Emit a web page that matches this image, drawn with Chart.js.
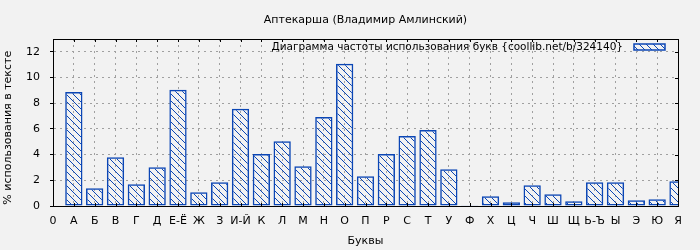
<!DOCTYPE html>
<html>
<head>
<meta charset="utf-8">
<script src="https://cdn.jsdelivr.net/npm/chart.js@4/dist/chart.umd.min.js"></script>
<style>
html, body { margin:0; padding:0; background:#f2f2f2; }
canvas { display:block; }
</style>
</head>
<body>
<canvas id="chart" width="700" height="250"></canvas>
<script>
const letters = ["А","Б","В","Г","Д","Е-Ё","Ж","З","И-Й","К","Л","М","Н","О","П","Р","С","Т","У","Ф","Х","Ц","Ч","Ш","Щ","Ь-Ъ","Ы","Э","Ю","Я"];
const percents = [8.88,1.38,3.80,1.70,3.02,9.04,1.07,1.85,7.58,4.04,5.05,3.10,6.93,11.07,2.32,4.04,5.44,5.91,2.87,0.05,0.76,0.29,1.62,0.91,0.37,1.85,1.85,0.45,0.52,1.93];
const xTickLabels = ["0", ...letters];

const blue = "#0b46b5";
const font = {family:"DejaVu Sans", size:11};

function hatch(){
    const tile = document.createElement("canvas");
    tile.width = 7;
    tile.height = 7;
    const c = tile.getContext("2d");
    c.fillStyle = blue;
    for(let i = 0; i < 7; i++){
        c.fillRect(i, i, 1, 1);
    }
    return document.getElementById("chart").getContext("2d").createPattern(tile, "repeat");
}

// border on all four sides, inside ticks, and the gnuplot-style key top right
const frame = {
    id:"frame",
    afterDraw(chart){
        const {ctx, chartArea:a, scales} = chart;
        ctx.save();
        ctx.strokeStyle = "#000";
        ctx.lineWidth = 1;
        ctx.strokeRect(Math.round(a.left) + 0.5, Math.round(a.top) + 0.5, Math.round(a.right - a.left), Math.round(a.bottom - a.top));
        ctx.beginPath();
        scales.x.ticks.forEach(t => {
            const x = Math.round(scales.x.getPixelForValue(t.value)) + 0.5;
            ctx.moveTo(x, a.bottom); ctx.lineTo(x, a.bottom - 3);
            ctx.moveTo(x, a.top); ctx.lineTo(x, a.top + 3);
        });
        scales.y.ticks.forEach(t => {
            const y = Math.round(scales.y.getPixelForValue(t.value)) + 0.5;
            ctx.moveTo(a.right, y); ctx.lineTo(a.right - 3, y);
        });
        ctx.stroke();

        const ds = chart.data.datasets[0];
        const cy = a.top + 8;
        const boxRight = a.right - 13;
        ctx.fillStyle = "#f2f2f2";
        ctx.fillRect(boxRight - 31, cy - 3, 31, 6);
        ctx.fillStyle = ds.backgroundColor;
        ctx.fillRect(boxRight - 31, cy - 3, 31, 6);
        ctx.strokeStyle = ds.borderColor;
        ctx.lineWidth = 1.5;
        ctx.strokeRect(boxRight - 31, cy - 3, 31, 6);
        ctx.fillStyle = "#000";
        ctx.font = "10.5px 'DejaVu Sans'";
        ctx.textAlign = "right";
        ctx.textBaseline = "middle";
        ctx.fillText(ds.label, boxRight - 42, cy);
        ctx.restore();
    }
};

Chart.defaults.font = font;
Chart.defaults.color = "#000";

new Chart(document.getElementById("chart"), {
    type:"bar",
    data:{
        datasets:[{
            label:"Диаграмма частоты использования букв {coollib.net/b/324140}",
            data:percents.map((v, i) => ({x:i + 1, y:v})),
            backgroundColor:hatch(),
            borderColor:blue,
            borderWidth:1.5,
            borderSkipped:false,
            barPercentage:0.83,
            categoryPercentage:1,
            clip:0
        }]
    },
    options:{
        responsive:false,
        animation:false,
        devicePixelRatio:1,
        layout:{padding:{right:22}},
        plugins:{
            title:{
                display:true,
                text:"Аптекарша (Владимир Амлинский)",
                fullSize:false,
                font:{...font, weight:"normal"},
                padding:{top:14, bottom:11.8}
            },
            legend:{display:false},
            tooltip:{enabled:false}
        },
        scales:{
            x:{
                type:"linear",
                min:0,
                max:30,
                offset:false,
                grid:{offset:false, color:"#a0a0a0", drawTicks:false},
                border:{color:"#000", dash:[2,4]},
                ticks:{
                    stepSize:1,
                    autoSkip:false,
                    maxRotation:0,
                    padding:9,
                    callback:value => xTickLabels[value]
                },
                title:{display:true, text:"Буквы", padding:{top:0, bottom:2.4}},
                afterFit(scale){ scale.height = 44; }
            },
            y:{
                min:0,
                max:13,
                grid:{color:"#a0a0a0", tickLength:3, tickColor:"#000", tickWidth:1},
                border:{color:"#000", dash:[2,4]},
                ticks:{stepSize:2, includeBounds:false, padding:10},
                title:{display:true, text:"% использования в тексте\u00a0\u00a0\u00a0", padding:{top:2, bottom:0}},
                afterFit(scale){ scale.width = 53; }
            }
        }
    },
    plugins:[frame]
});
</script>
</body>
</html>
